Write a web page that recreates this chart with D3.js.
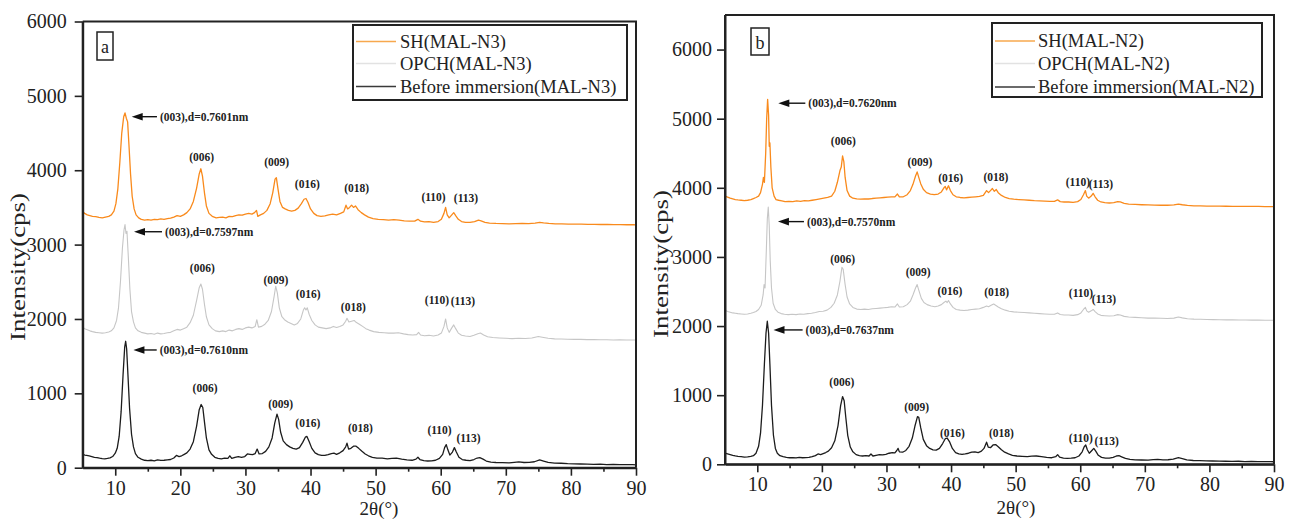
<!DOCTYPE html>
<html><head><meta charset="utf-8">
<script src="https://cdn.jsdelivr.net/npm/d3@7"></script>
<style>
html,body{margin:0;padding:0;background:#fff;}
svg{display:block;font-family:"Liberation Serif","Times New Roman",serif;}
svg text{font-family:"Liberation Serif","Times New Roman",serif !important;}
</style></head>
<body><svg id="c" width="1293" height="520"></svg>
<script>
// ---------- DATA ----------
const xTicks = [10,20,30,40,50,60,70,80,90];
const xMinorTicks = [15,25,35,45,55,65,75,85];
const yTicks = [0,1000,2000,3000,4000,5000,6000];
const seriesNamesA = ["SH(MAL-N3)","OPCH(MAL-N3)","Before immersion(MAL-N3)"];
const seriesNamesB = ["SH(MAL-N2)","OPCH(MAL-N2)","Before immersion(MAL-N2)"];

// Panel a: MAL-N3
const aBlack = [[5,185],[5.3,170],[5.6,165],[6,158],[6.4,150],[6.8,140],[7.2,135],[7.6,128],[8,122],[8.4,120],[8.8,125],[9.2,132],[9.6,150],[10,195],[10.3,260],[10.6,420],[10.9,750],[11.2,1250],[11.45,1620],[11.6,1700],[11.75,1600],[11.95,1250],[12.2,800],[12.5,450],[12.8,280],[13.1,190],[13.5,140],[14,115],[14.5,100],[15,95],[15.5,100],[16,92],[16.5,105],[17,98],[17.5,100],[18,105],[18.5,110],[19,130],[19.4,165],[19.8,150],[20.2,160],[20.6,180],[21,200],[21.5,250],[22,350],[22.5,560],[22.9,780],[23.2,850],[23.45,810],[23.7,620],[24,400],[24.4,240],[24.8,180],[25.3,140],[25.8,125],[26.3,120],[26.8,130],[27.3,125],[27.6,160],[27.9,125],[28.4,140],[28.9,150],[29.4,140],[29.9,150],[30.3,185],[30.7,180],[31.1,175],[31.5,190],[31.8,250],[32.1,185],[32.6,190],[33.1,220],[33.6,280],[34.1,400],[34.5,600],[34.85,720],[35.1,650],[35.4,480],[35.8,360],[36.3,310],[36.8,280],[37.3,260],[37.8,250],[38.3,270],[38.8,340],[39.2,410],[39.45,420],[39.8,350],[40.2,260],[40.7,200],[41.2,175],[41.7,165],[42.2,165],[42.7,175],[43.2,190],[43.6,195],[44,180],[44.5,200],[45,230],[45.4,280],[45.6,330],[45.85,250],[46.2,260],[46.6,290],[47,290],[47.4,260],[47.9,220],[48.4,185],[48.9,160],[49.5,140],[50.2,130],[51,128],[51.8,120],[52.5,125],[53.2,128],[54,115],[54.8,105],[55.6,100],[56.2,115],[56.5,140],[56.8,110],[57.4,95],[58,90],[58.6,92],[59.2,100],[59.8,125],[60.3,180],[60.6,270],[60.85,310],[61.1,240],[61.4,170],[61.8,210],[62.1,270],[62.4,210],[62.8,140],[63.3,110],[63.9,100],[64.5,95],[65.1,110],[65.6,130],[66,135],[66.5,115],[67,90],[67.7,75],[68.5,70],[69.5,68],[70.5,65],[71.3,72],[72,78],[72.8,70],[73.6,72],[74.4,80],[75.2,105],[75.8,90],[76.5,72],[77.5,62],[78.5,60],[79.5,55],[80.5,52],[81.5,50],[82.5,48],[83.5,45],[84.5,47],[85.5,42],[86.5,45],[87.5,40],[88.5,42],[89.5,40],[90,38]];
const aGray = [[5,1890],[5.3,1870],[5.7,1855],[6.1,1840],[6.5,1830],[7,1820],[7.5,1815],[8,1810],[8.5,1815],[9,1825],[9.4,1840],[9.8,1880],[10.2,1980],[10.5,2150],[10.8,2500],[11.1,2950],[11.35,3200],[11.5,3270],[11.65,3150],[11.8,3180],[12,2850],[12.25,2400],[12.5,2100],[12.8,1960],[13.1,1880],[13.5,1840],[14,1820],[14.5,1810],[15,1800],[15.5,1805],[16,1795],[16.5,1810],[17,1800],[17.5,1805],[18,1815],[18.5,1820],[19,1840],[19.5,1860],[20,1850],[20.5,1870],[21,1890],[21.5,1950],[22,2050],[22.5,2250],[22.9,2420],[23.15,2470],[23.4,2400],[23.7,2200],[24,2030],[24.4,1920],[24.9,1870],[25.4,1840],[26,1830],[26.5,1840],[27,1830],[27.5,1850],[28,1840],[28.5,1860],[29,1870],[29.5,1860],[30,1880],[30.5,1890],[31,1880],[31.5,1900],[31.75,1990],[32,1890],[32.5,1900],[33,1930],[33.5,1980],[34,2100],[34.4,2300],[34.65,2440],[34.9,2350],[35.2,2150],[35.6,2030],[36,1990],[36.5,1960],[37,1940],[37.5,1920],[38,1940],[38.5,2000],[38.9,2120],[39.1,2150],[39.3,2120],[39.5,2150],[39.8,2060],[40.2,1980],[40.7,1920],[41.2,1890],[41.8,1880],[42.4,1870],[43,1880],[43.5,1900],[44,1885],[44.5,1900],[45,1920],[45.4,1970],[45.6,2010],[45.9,1960],[46.3,1970],[46.7,1980],[47,1955],[47.5,1930],[48,1900],[48.5,1870],[49,1850],[49.7,1830],[50.5,1820],[51.3,1815],[52,1810],[52.8,1810],[53.5,1815],[54.3,1800],[55,1790],[55.7,1785],[56.3,1790],[56.6,1820],[56.9,1785],[57.5,1775],[58.2,1780],[58.9,1770],[59.6,1785],[60.1,1810],[60.5,1900],[60.75,2000],[61,1880],[61.3,1820],[61.7,1880],[62,1920],[62.3,1870],[62.7,1810],[63.2,1780],[63.8,1770],[64.5,1765],[65.1,1780],[65.7,1800],[66.1,1810],[66.6,1785],[67.2,1760],[68,1750],[69,1745],[70,1740],[71,1735],[72,1740],[73,1738],[74,1745],[75,1765],[75.6,1755],[76.5,1740],[77.5,1732],[78.5,1730],[79.5,1728],[80.5,1725],[81.5,1725],[82.5,1722],[83.5,1722],[84.5,1720],[85.5,1720],[86.5,1718],[87.5,1720],[88.5,1718],[89.5,1717],[90,1717]];
const aOrange = [[5,3440],[5.3,3420],[5.7,3400],[6.1,3390],[6.5,3380],[7,3375],[7.5,3365],[8,3360],[8.5,3370],[9,3380],[9.4,3400],[9.8,3450],[10.1,3550],[10.4,3750],[10.7,4100],[11,4500],[11.3,4720],[11.5,4770],[11.7,4700],[11.9,4650],[12.1,4350],[12.35,3950],[12.6,3650],[12.9,3480],[13.2,3400],[13.6,3360],[14,3340],[14.5,3330],[15,3335],[15.5,3330],[16,3340],[16.5,3335],[17,3345],[17.5,3340],[18,3350],[18.5,3355],[19,3370],[19.5,3390],[20,3380],[20.5,3400],[21,3430],[21.5,3480],[22,3580],[22.5,3760],[22.9,3950],[23.15,4020],[23.4,3920],[23.7,3700],[24,3520],[24.4,3420],[24.9,3380],[25.5,3360],[26,3365],[26.5,3370],[27,3360],[27.5,3380],[28,3375],[28.5,3390],[29,3400],[29.5,3395],[30,3410],[30.5,3420],[31,3410],[31.4,3430],[31.7,3460],[31.9,3380],[32.3,3400],[32.8,3420],[33.3,3460],[33.8,3550],[34.2,3700],[34.55,3880],[34.75,3900],[35,3750],[35.3,3580],[35.7,3500],[36.1,3480],[36.6,3460],[37.1,3450],[37.6,3460],[38.1,3490],[38.6,3550],[39,3610],[39.3,3620],[39.6,3570],[40,3480],[40.5,3420],[41,3390],[41.6,3380],[42.2,3385],[42.8,3400],[43.4,3410],[44,3400],[44.6,3420],[45.1,3440],[45.45,3530],[45.7,3480],[46,3500],[46.3,3530],[46.6,3500],[46.9,3520],[47.3,3470],[47.8,3430],[48.3,3400],[48.9,3370],[49.6,3350],[50.4,3340],[51.2,3335],[52,3330],[52.8,3335],[53.6,3330],[54.4,3320],[55.2,3315],[56,3315],[56.5,3340],[56.9,3315],[57.5,3305],[58.2,3310],[58.9,3300],[59.6,3310],[60.1,3340],[60.5,3420],[60.75,3500],[61,3400],[61.3,3360],[61.7,3400],[62,3430],[62.3,3390],[62.7,3340],[63.2,3310],[63.8,3300],[64.5,3300],[65.2,3310],[65.8,3330],[66.2,3320],[66.8,3300],[67.5,3290],[68.5,3285],[69.5,3282],[70.5,3280],[71.5,3282],[72.5,3285],[73.5,3283],[74.5,3290],[75.2,3300],[75.8,3292],[76.6,3285],[77.6,3280],[78.6,3278],[79.6,3276],[80.6,3275],[81.6,3275],[82.6,3272],[83.6,3272],[84.6,3270],[85.6,3270],[86.6,3268],[87.6,3268],[88.6,3267],[89.6,3267],[90,3266]];

// Panel b: MAL-N2
const bBlack = [[5,160],[5.4,150],[5.8,140],[6.2,130],[6.6,122],[7,115],[7.5,110],[8,105],[8.5,108],[9,115],[9.4,125],[9.8,160],[10.2,260],[10.5,450],[10.8,850],[11.1,1450],[11.35,1900],[11.55,2070],[11.75,1900],[11.95,1450],[12.2,850],[12.5,420],[12.8,230],[13.1,160],[13.5,125],[14,110],[14.5,100],[15,95],[15.5,98],[16,92],[16.5,100],[17,95],[17.5,98],[18,100],[18.5,110],[19,125],[19.4,150],[19.8,140],[20.2,155],[20.6,170],[21,190],[21.5,240],[22,340],[22.5,560],[22.9,850],[23.2,980],[23.45,920],[23.7,680],[24,420],[24.4,250],[24.8,180],[25.3,140],[25.8,125],[26.3,120],[26.8,125],[27.3,120],[27.6,150],[27.9,120],[28.4,130],[28.9,140],[29.4,135],[29.9,145],[30.4,160],[30.9,170],[31.3,165],[31.6,200],[31.8,230],[32,180],[32.5,175],[33,200],[33.5,260],[34,380],[34.4,550],[34.8,690],[35,680],[35.3,530],[35.7,360],[36.2,270],[36.7,230],[37.2,210],[37.7,205],[38.2,230],[38.7,300],[39.1,370],[39.4,380],[39.8,320],[40.2,230],[40.7,170],[41.2,150],[41.7,145],[42.2,150],[42.7,160],[43.2,175],[43.7,180],[44.2,170],[44.7,190],[45.1,230],[45.5,320],[45.75,250],[46.1,240],[46.5,280],[46.9,285],[47.3,255],[47.8,210],[48.3,175],[48.9,150],[49.5,130],[50.2,120],[51,115],[51.8,110],[52.5,118],[53.2,120],[54,110],[54.8,100],[55.6,95],[56.2,110],[56.5,140],[56.8,105],[57.4,90],[58,85],[58.6,88],[59.2,95],[59.8,120],[60.3,180],[60.6,250],[60.85,280],[61.1,210],[61.4,160],[61.8,200],[62.1,230],[62.4,190],[62.8,130],[63.3,100],[63.9,90],[64.5,88],[65.1,100],[65.6,120],[66,125],[66.5,105],[67,85],[67.7,70],[68.5,65],[69.5,62],[70.5,60],[71.3,68],[72,72],[72.8,65],[73.6,66],[74.4,75],[75.2,95],[75.8,82],[76.5,65],[77.5,55],[78.5,52],[79.5,50],[80.5,48],[81.5,45],[82.5,44],[83.5,42],[84.5,44],[85.5,40],[86.5,42],[87.5,38],[88.5,40],[89.5,38],[90,37]];
const bGray = [[5,2230],[5.4,2210],[5.8,2200],[6.2,2190],[6.6,2185],[7,2180],[7.5,2175],[8,2170],[8.5,2175],[9,2185],[9.4,2195],[9.8,2210],[10.2,2240],[10.6,2300],[10.9,2450],[11.05,2600],[11.2,2550],[11.4,3100],[11.55,3550],[11.7,3720],[11.85,3450],[12,2950],[12.2,2550],[12.45,2330],[12.8,2240],[13.2,2200],[13.7,2180],[14.2,2170],[14.8,2165],[15.4,2170],[16,2165],[16.6,2175],[17.2,2170],[17.8,2180],[18.4,2185],[19,2195],[19.6,2210],[20.2,2215],[20.8,2230],[21.4,2270],[21.9,2330],[22.4,2450],[22.8,2650],[23.1,2850],[23.3,2820],[23.6,2600],[23.9,2420],[24.3,2320],[24.8,2270],[25.4,2245],[26,2240],[26.6,2245],[27.2,2240],[27.8,2250],[28.4,2255],[29,2260],[29.6,2265],[30.2,2270],[30.8,2280],[31.3,2275],[31.7,2320],[32,2275],[32.6,2280],[33.2,2310],[33.7,2360],[34.1,2450],[34.5,2550],[34.75,2600],[35,2520],[35.4,2400],[35.8,2340],[36.3,2310],[36.9,2290],[37.5,2280],[38,2290],[38.5,2310],[38.9,2340],[39.2,2360],[39.4,2340],[39.6,2370],[39.9,2320],[40.3,2270],[40.8,2240],[41.4,2230],[42,2225],[42.6,2230],[43.2,2240],[43.8,2245],[44.4,2250],[45,2270],[45.5,2290],[45.8,2280],[46.2,2300],[46.6,2320],[46.9,2300],[47.3,2275],[47.8,2250],[48.4,2230],[49,2215],[49.7,2205],[50.5,2200],[51.3,2195],[52.1,2190],[52.9,2185],[53.7,2180],[54.5,2175],[55.3,2170],[56,2170],[56.5,2190],[56.9,2168],[57.5,2160],[58.2,2160],[58.9,2155],[59.6,2165],[60.1,2190],[60.5,2240],[60.8,2270],[61,2220],[61.3,2200],[61.7,2220],[62,2240],[62.3,2210],[62.7,2175],[63.2,2155],[63.8,2150],[64.5,2145],[65.2,2150],[65.8,2165],[66.2,2160],[66.8,2140],[67.5,2130],[68.5,2125],[69.5,2120],[70.5,2115],[71.5,2115],[72.5,2112],[73.5,2110],[74.5,2115],[75.2,2130],[75.8,2118],[76.6,2105],[77.6,2100],[78.6,2098],[79.6,2095],[80.6,2093],[81.6,2092],[82.6,2090],[83.6,2090],[84.6,2088],[85.6,2088],[86.6,2086],[87.6,2086],[88.6,2085],[89.6,2085],[90,2084]];
const bOrange = [[5,3880],[5.4,3865],[5.8,3850],[6.2,3840],[6.6,3830],[7,3825],[7.5,3820],[8,3815],[8.5,3820],[9,3830],[9.4,3845],[9.8,3860],[10.2,3880],[10.5,3930],[10.8,4050],[10.95,4150],[11.1,4080],[11.3,4500],[11.45,5000],[11.6,5280],[11.75,5050],[11.85,4600],[11.95,4650],[12.1,4300],[12.3,4000],[12.6,3880],[12.9,3830],[13.3,3820],[13.8,3810],[14.3,3800],[14.9,3805],[15.5,3800],[16.1,3810],[16.7,3805],[17.3,3815],[17.9,3810],[18.5,3820],[19.1,3830],[19.7,3840],[20.3,3850],[20.9,3860],[21.5,3880],[22,3950],[22.4,4080],[22.8,4250],[23,4300],[23.2,4460],[23.4,4380],[23.6,4150],[23.9,3960],[24.3,3880],[24.8,3850],[25.4,3840],[26,3835],[26.6,3840],[27.2,3838],[27.8,3845],[28.4,3850],[29,3855],[29.6,3860],[30.2,3865],[30.8,3870],[31.3,3868],[31.7,3910],[32,3870],[32.6,3870],[33.2,3900],[33.7,3960],[34.1,4050],[34.5,4170],[34.75,4230],[35,4150],[35.3,4060],[35.7,3980],[36.2,3930],[36.8,3910],[37.4,3900],[38,3910],[38.5,3940],[38.9,4000],[39.1,4020],[39.3,3970],[39.6,4030],[39.9,3960],[40.3,3900],[40.8,3870],[41.4,3860],[42,3855],[42.6,3860],[43.2,3865],[43.8,3870],[44.4,3875],[45,3890],[45.5,3960],[45.8,3930],[46.1,3960],[46.4,3990],[46.7,3950],[47,3975],[47.3,3930],[47.8,3890],[48.4,3860],[49,3845],[49.7,3835],[50.5,3830],[51.3,3825],[52.1,3820],[52.9,3815],[53.7,3812],[54.5,3808],[55.3,3805],[56,3805],[56.5,3825],[56.9,3800],[57.5,3795],[58.2,3795],[58.9,3790],[59.6,3800],[60.1,3830],[60.5,3900],[60.8,3960],[61,3880],[61.3,3850],[61.7,3880],[62,3920],[62.3,3870],[62.7,3820],[63.2,3795],[63.8,3785],[64.5,3780],[65.2,3785],[65.8,3800],[66.2,3795],[66.8,3775],[67.5,3765],[68.5,3760],[69.5,3755],[70.5,3752],[71.5,3750],[72.5,3748],[73.5,3748],[74.5,3752],[75.2,3765],[75.8,3755],[76.6,3745],[77.6,3740],[78.6,3738],[79.6,3736],[80.6,3735],[81.6,3734],[82.6,3733],[83.6,3732],[84.6,3731],[85.6,3731],[86.6,3730],[87.6,3730],[88.6,3729],[89.6,3729],[90,3728]];

// Peak labels [text, 2θ, intensity]
const aPeakLabels = [
  ["(006)",23.28,4182],["(009)",34.8,4115],["(016)",39.5,3815],["(018)",47.09,3757],["(110)",58.9,3640],["(113)",63.88,3626],
  ["(006)",23.37,2681],["(009)",34.69,2524],["(016)",39.65,2332],["(018)",46.57,2165],["(110)",59.42,2255],["(113)",63.41,2241],
  ["(006)",23.79,1068],["(009)",35.4,857],["(016)",39.58,605],["(018)",47.66,530],["(110)",59.82,507],["(113)",64.28,403]
];
// Arrow labels [text, arrow tip 2θ, text start 2θ, intensity]
const aArrowLabels = [
  ["(003),d=0.7601nm",12.53,16.87,4720],
  ["(003),d=0.7597nm",12.88,17.64,3173],
  ["(003),d=0.7610nm",12.79,16.83,1583]
];
const bPeakLabels = [
  ["(006)",23.31,4683],["(009)",35.19,4379],["(016)",39.94,4139],["(018)",46.95,4153],["(110)",59.64,4085],["(113)",63.2,4056],
  ["(006)",23.22,2971],["(009)",34.92,2787],["(016)",39.83,2512],["(018)",47.06,2489],["(110)",60.11,2479],["(113)",63.67,2392],
  ["(006)",23.08,1195],["(009)",34.67,825],["(016)",40.22,457],["(018)",47.8,449],["(110)",60.09,376],["(113)",64.09,342]
];
const bArrowLabels = [
  ["(003),d=0.7620nm",13.25,17.9,5224],
  ["(003),d=0.7570nm",13.2,17.69,3511],
  ["(003),d=0.7637nm",12.51,17.48,1944]
];

// ---------- DRAW ----------
const svg = d3.select("#c");
const colors = {orange:"#f98a1c", gray:"#c6c6c6", black:"#1c1c1c"};
const legendColors = ["#f7a84e","#e2e2e2","#3a3a3a"];

function panel(cfg){
  const x = d3.scaleLinear().domain([5,90]).range([cfg.x0, cfg.x1]);
  const y = d3.scaleLinear().domain([0, cfg.ymax]).range([cfg.y0, cfg.y1]);
  const g = svg.append("g");

  const line = d3.line().x(d=>x(d[0])).y(d=>y(d[1]));
  [[cfg.orange,colors.orange,1.3],[cfg.gray,colors.gray,1.1],[cfg.black,colors.black,1.3]].forEach(([data,c,w])=>{
    g.append("path").datum(data).attr("d",line).attr("fill","none")
      .attr("stroke",c).attr("stroke-width",w).attr("stroke-linejoin","round");
  });

  // frame
  g.append("path").attr("d",`M${cfg.x0},${cfg.y1}H${cfg.x1}V${cfg.y0}`)
    .attr("fill","none").attr("stroke","#222").attr("stroke-width",2);

  // x axis
  g.append("g").attr("transform",`translate(0,${cfg.y0})`)
    .call(d3.axisBottom(x).tickValues(xTicks).tickSize(cfg.tick).tickPadding(cfg.xpad).tickSizeOuter(0).tickFormat(d3.format("d")));
  g.append("g").attr("transform",`translate(0,${cfg.y0})`)
    .call(d3.axisBottom(x).tickValues(xMinorTicks).tickSize(4).tickFormat("").tickSizeOuter(0))
    .call(s=>s.select(".domain").remove());
  // y axis
  g.append("g").attr("transform",`translate(${cfg.x0},0)`)
    .call(d3.axisLeft(y).tickValues(yTicks).tickSize(cfg.tick).tickPadding(cfg.ypad).tickSizeOuter(0).tickFormat(d3.format("d")));
  g.selectAll(".domain").attr("stroke","#222").attr("stroke-width",2);
  g.selectAll(".tick line").attr("stroke","#222").attr("stroke-width",1.6);
  g.selectAll(".tick text").attr("font-size",20).attr("fill","#222");
  g.append("line").attr("x1",cfg.x0).attr("x2",cfg.x0).attr("y1",cfg.y1).attr("y2",cfg.y0)
    .attr("stroke","#222").attr("stroke-width",2);
  g.append("line").attr("x1",cfg.x0).attr("x2",cfg.x1).attr("y1",cfg.y0).attr("y2",cfg.y0)
    .attr("stroke","#222").attr("stroke-width",2);

  // titles
  g.append("text").attr("x",cfg.xtX).attr("y",cfg.xtY).attr("text-anchor","middle")
    .attr("font-size",19).attr("fill","#222").text("2θ(°)");
  g.append("text").attr("transform",`translate(${cfg.ytX},${cfg.ytY}) rotate(-90)`)
    .attr("text-anchor","middle").attr("dominant-baseline","central")
    .attr("font-size",20).attr("textLength",148).attr("lengthAdjust","spacingAndGlyphs")
    .attr("fill","#222").text("Intensity(cps)");

  // panel letter
  g.append("rect").attr("x",cfg.letter[0]).attr("y",cfg.letter[1]).attr("width",cfg.letter[2]).attr("height",cfg.letter[3])
    .attr("fill","#fff").attr("stroke","#222").attr("stroke-width",1.5);
  g.append("text").attr("x",cfg.letter[0]+cfg.letter[2]/2).attr("y",cfg.letter[1]+cfg.letter[3]/2+1)
    .attr("text-anchor","middle").attr("dominant-baseline","central").attr("font-size",18).attr("fill","#222").text(cfg.letterText);

  // peak labels
  g.selectAll(".pk").data(cfg.peaks).enter().append("text")
    .attr("x",d=>x(d[1])).attr("y",d=>y(d[2])).attr("text-anchor","middle").attr("dominant-baseline","central")
    .attr("font-size",11.5).attr("font-weight","bold").attr("fill","#222").text(d=>d[0]);
  // arrow labels
  cfg.arrows.forEach(d=>{
    const tx = x(d[1]), sx = x(d[2]), yy = y(d[3]);
    g.append("line").attr("x1",tx+8).attr("x2",sx-3).attr("y1",yy).attr("y2",yy).attr("stroke","#111").attr("stroke-width",1.4);
    g.append("path").attr("d",`M${tx},${yy}L${tx+11},${yy-3.8}L${tx+11},${yy+3.8}Z`).attr("fill","#111");
    g.append("text").attr("x",sx).attr("y",yy).attr("dominant-baseline","central")
      .attr("font-size",11.5).attr("font-weight","bold").attr("fill","#222").text(d[0]);
  });

  // legend
  const L = cfg.legend;
  g.append("rect").attr("x",L.x).attr("y",L.y).attr("width",L.w).attr("height",L.h)
    .attr("fill","#fff").attr("stroke","#222").attr("stroke-width",2);
  cfg.names.forEach((n,i)=>{
    const yy = L.rows[i];
    g.append("line").attr("x1",L.lx0).attr("x2",L.lx1).attr("y1",yy).attr("y2",yy)
      .attr("stroke",legendColors[i]).attr("stroke-width",1.5);
    g.append("text").attr("x",L.tx).attr("y",yy).attr("dominant-baseline","central")
      .attr("font-size",18.5).attr("fill","#222").text(n);
  });
}

panel({x0:82.7,x1:636,y0:467.7,y1:21.5,ymax:6000,tick:8,xpad:5,ypad:8,
  orange:aOrange,gray:aGray,black:aBlack,peaks:aPeakLabels,arrows:aArrowLabels,names:seriesNamesA,
  xtX:379,xtY:515,ytX:18,ytY:267,letter:[97,32,16,28],letterText:"a",
  legend:{x:353,y:25,w:274,h:75,lx0:356,lx1:396,tx:400,rows:[41.5,63.5,86.5]}});
panel({x0:725,x1:1274,y0:464.3,y1:15,ymax:6500,tick:8,xpad:5,ypad:5,
  orange:bOrange,gray:bGray,black:bBlack,peaks:bPeakLabels,arrows:bArrowLabels,names:seriesNamesB,
  xtX:1016,xtY:514,ytX:661,ytY:264,letter:[751,28,18,27],letterText:"b",
  legend:{x:992,y:23,w:270,h:74,lx0:995,lx1:1035,tx:1038,rows:[41,63.5,87]}});
</script></body></html>
